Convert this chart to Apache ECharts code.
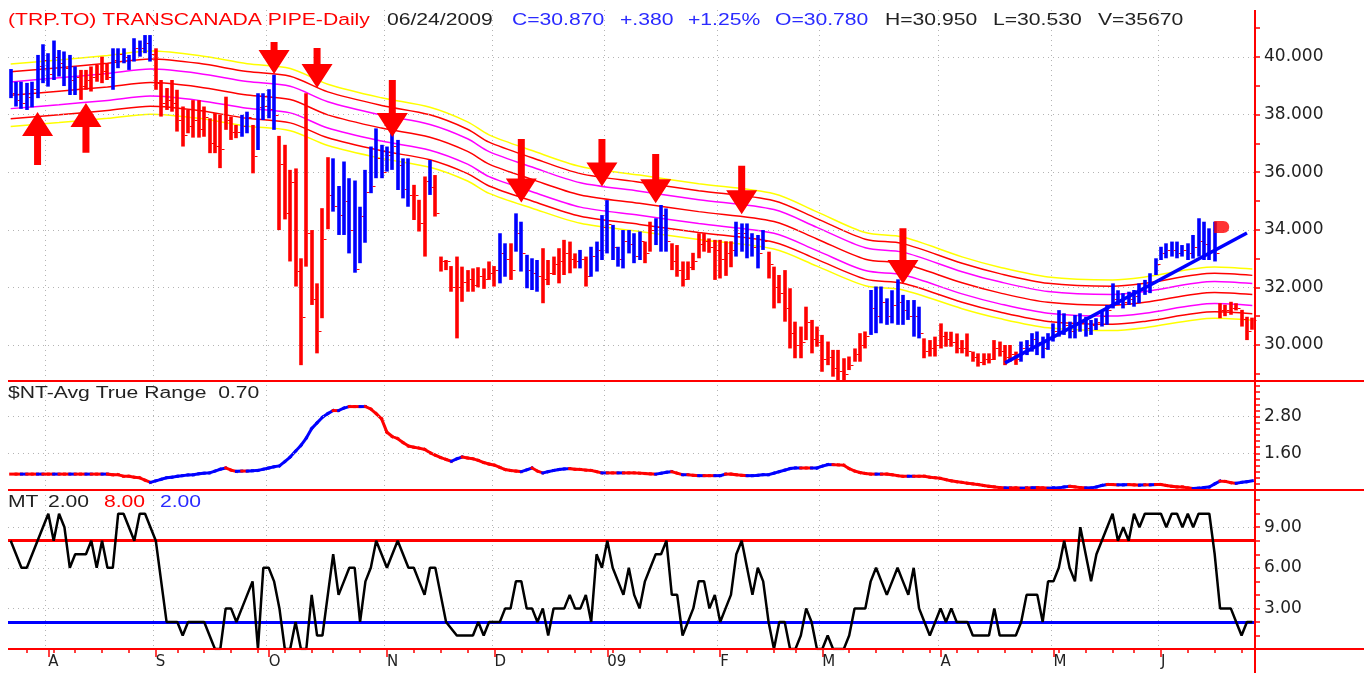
<!DOCTYPE html>
<html>
<head>
<meta charset="utf-8">
<title>TRP.TO Daily</title>
<script src="https://cdn.jsdelivr.net/npm/echarts@6/dist/echarts.min.js"></script>
<style>
  html, body { margin: 0; padding: 0; background: #fff; }
  #chart { width: 1364px; height: 673px; }
</style>
</head>
<body>
<div id="chart"></div>
<script>
// trading calendar (TSX) for the plotted span
const holidays = ['2008-08-04', '2008-09-01', '2008-10-13', '2008-12-25', '2008-12-26',
  '2009-01-01', '2009-02-16', '2009-04-10', '2009-05-18'];

function tradingDays(from, to) {
  const out = [];
  const d = new Date(from + 'T00:00:00Z');
  const end = new Date(to + 'T00:00:00Z');
  while (d <= end) {
    const s = d.toISOString().slice(0, 10);
    const wd = d.getUTCDay();
    if (wd !== 0 && wd !== 6 && holidays.indexOf(s) < 0) out.push(s);
    d.setUTCDate(d.getUTCDate() + 1);
  }
  return out;
}
const dates = tradingDays('2008-07-23', '2009-06-24');

// price bars
const highs = [
  39.58, 39.14, 39.14, 39.10, 39.14, 40.07, 40.44, 40.13, 40.57, 40.24,
  40.19, 40.07, 39.67, 39.55, 39.55, 39.67, 39.72, 40.01, 39.78, 40.30,
  40.30, 40.30, 40.07, 40.65, 40.57, 40.76, 40.76, 40.30, 39.20, 38.92,
  39.20, 38.86, 38.28, 38.16, 38.50, 38.50, 38.28, 37.87, 38.05, 37.99,
  38.62, 37.93, 37.64, 37.99, 38.10, 37.64, 38.74, 38.74, 38.88, 39.38,
  37.26, 36.95, 36.08, 36.13, 33.01, 38.74, 33.99, 32.14, 34.75, 36.52,
  36.48, 35.52, 36.37, 35.79, 35.71, 34.80, 36.08, 36.89, 37.52, 36.95,
  36.89, 37.41, 37.12, 36.48, 36.48, 35.56, 35.04, 35.85, 36.42, 35.90,
  33.07, 32.95, 32.74, 33.07, 32.72, 32.60, 32.66, 32.70, 32.66, 32.90,
  32.74, 33.88, 33.53, 33.53, 34.57, 34.28, 33.13, 33.01, 32.95, 33.36,
  32.95, 33.07, 33.36, 33.65, 33.59, 33.18, 33.30, 33.07, 33.41, 33.59,
  34.51, 35.03, 34.17, 33.41, 33.99, 33.99, 33.88, 33.94, 33.59, 34.28,
  34.40, 34.86, 34.74, 33.53, 33.47, 32.90, 32.90, 33.20, 33.88, 33.88,
  33.70, 33.65, 33.65, 33.60, 33.60, 34.28, 34.22, 34.22, 33.88, 33.82,
  33.99, 33.24, 32.72, 32.43, 32.60, 31.97, 30.81, 30.64, 31.33, 30.87,
  30.64, 30.35, 30.12, 29.83, 29.83, 29.54, 29.60, 29.88, 30.41, 30.47,
  31.91, 32.03, 32.03, 31.62, 31.90, 32.28, 31.74, 31.56, 31.56, 31.33,
  30.23, 30.17, 30.29, 30.75, 30.46, 30.46, 30.40, 30.17, 30.40, 29.77,
  29.71, 29.71, 29.71, 30.17, 30.12, 30.00, 30.00, 29.77, 30.12, 30.17,
  30.41, 30.47, 30.29, 30.41, 30.75, 31.21, 31.10, 30.81, 31.04, 31.10,
  30.98, 30.87, 30.93, 31.16, 31.39, 32.14, 31.90, 31.80, 31.85, 31.91,
  32.14, 32.26, 32.49, 33.01, 33.41, 33.53, 33.59, 33.59, 33.47, 33.53,
  33.82, 34.40, 34.28, 34.05, 34.28, 31.45, 31.40, 31.50, 31.45, 31.22,
  30.98, 30.95
];
const lows = [
  38.57, 38.28, 38.20, 38.16, 38.25, 38.57, 39.09, 38.97, 39.20, 39.32,
  38.99, 38.68, 38.68, 38.51, 38.86, 38.80, 39.14, 39.09, 39.20, 38.86,
  39.61, 39.78, 39.55, 39.84, 40.01, 40.13, 39.84, 38.86, 37.93, 38.16,
  38.10, 37.41, 36.89, 37.35, 37.20, 37.20, 37.23, 36.66, 36.66, 36.14,
  37.47, 37.12, 37.18, 37.23, 37.35, 35.96, 36.77, 37.81, 37.87, 37.47,
  33.99, 34.36, 32.90, 32.03, 29.30, 32.72, 31.39, 29.71, 30.93, 34.02,
  34.63, 33.82, 33.82, 33.18, 32.51, 32.84, 33.55, 35.27, 35.79, 35.79,
  36.02, 36.08, 35.38, 35.09, 34.80, 34.34, 33.94, 33.07, 35.21, 34.46,
  32.55, 32.60, 31.85, 30.23, 31.50, 31.85, 31.85, 32.00, 31.95, 32.26,
  32.03, 32.14, 32.37, 32.26, 33.24, 32.55, 31.97, 31.91, 31.85, 31.45,
  32.08, 32.43, 32.14, 32.43, 32.49, 32.66, 32.66, 32.03, 32.37, 32.55,
  32.95, 33.18, 32.95, 32.72, 32.66, 33.18, 32.84, 32.95, 32.84, 33.24,
  33.47, 33.24, 33.24, 32.60, 32.37, 32.03, 32.26, 32.60, 33.01, 33.24,
  33.20, 32.26, 32.31, 32.40, 32.70, 33.07, 33.24, 33.01, 33.07, 32.66,
  33.30, 32.31, 31.27, 31.45, 30.81, 29.88, 29.54, 29.54, 30.17, 29.71,
  29.94, 29.07, 29.30, 28.90, 28.78, 28.78, 29.13, 29.42, 29.42, 29.88,
  30.35, 30.41, 30.75, 30.70, 30.75, 30.70, 30.70, 30.87, 30.29, 30.23,
  29.54, 29.60, 29.60, 29.88, 29.94, 29.94, 29.71, 29.71, 29.60, 29.42,
  29.25, 29.30, 29.36, 29.48, 29.60, 29.30, 29.42, 29.31, 29.42, 29.65,
  29.77, 29.65, 29.54, 29.83, 30.12, 30.29, 30.35, 30.23, 30.23, 30.46,
  30.29, 30.35, 30.52, 30.64, 30.70, 31.27, 31.39, 31.27, 31.39, 31.33,
  31.45, 31.74, 31.80, 32.43, 32.95, 33.01, 33.07, 33.01, 33.07, 32.95,
  33.00, 33.07, 32.95, 32.95, 32.90, 30.93, 31.00, 31.05, 31.20, 30.64,
  30.17, 30.53
];
const closes = [
  38.75, 38.50, 38.40, 38.60, 38.90, 39.70, 39.90, 39.40, 40.00, 39.80,
  39.60, 39.20, 39.30, 39.00, 39.20, 39.30, 39.40, 39.50, 39.30, 39.90,
  40.10, 40.00, 39.90, 40.30, 40.30, 40.50, 40.10, 39.10, 38.40, 38.50,
  38.40, 37.80, 37.30, 37.60, 37.80, 37.50, 37.90, 37.00, 36.90, 36.80,
  37.80, 37.40, 37.40, 37.60, 37.90, 36.56, 38.25, 38.30, 38.20, 38.00,
  36.27, 34.57, 35.67, 32.58, 30.96, 33.90, 31.59, 30.50, 33.68, 35.20,
  34.84, 34.50, 35.00, 34.00, 32.63, 34.48, 35.30, 35.52, 36.50, 36.00,
  36.60, 36.90, 36.25, 35.40, 35.20, 35.20, 34.25, 35.70, 35.50, 34.57,
  32.90, 32.90, 32.00, 32.00, 32.20, 32.30, 32.10, 32.40, 32.30, 32.50,
  32.60, 33.20, 33.00, 32.60, 33.90, 33.20, 32.60, 32.50, 32.40, 32.30,
  32.50, 32.80, 32.90, 33.20, 33.00, 32.90, 33.00, 32.40, 33.10, 33.30,
  34.10, 34.20, 33.40, 33.00, 33.60, 33.50, 33.10, 33.60, 33.20, 34.00,
  34.10, 34.50, 33.60, 32.90, 32.60, 32.30, 32.70, 32.90, 33.50, 33.60,
  33.40, 33.30, 33.00, 33.20, 33.30, 33.90, 33.90, 33.70, 33.40, 33.20,
  33.60, 32.80, 32.00, 31.80, 31.30, 30.40, 30.00, 30.10, 30.80, 30.20,
  30.10, 29.50, 29.60, 29.20, 29.10, 29.00, 29.30, 29.70, 30.00, 30.30,
  31.30, 31.00, 31.50, 31.00, 31.40, 31.50, 31.20, 31.00, 31.00, 30.40,
  29.80, 29.90, 30.00, 30.30, 30.20, 30.10, 29.90, 29.90, 29.80, 29.60,
  29.40, 29.50, 29.50, 29.90, 29.80, 29.60, 29.70, 29.50, 29.90, 30.00,
  30.20, 30.10, 29.90, 30.20, 30.50, 30.80, 30.70, 30.50, 30.80, 30.80,
  30.60, 30.70, 30.80, 31.00, 31.20, 31.60, 31.60, 31.50, 31.60, 31.70,
  31.90, 32.00, 32.20, 32.80, 33.20, 33.30, 33.30, 33.20, 33.30, 33.20,
  33.40, 33.60, 33.50, 33.30, 33.20, 31.20, 31.20, 31.30, 31.30, 30.90,
  30.50, 30.87
];
// B = blue bar, R = red bar
const barTrend = (
  'BBBBBBBBBB' + 'BBBRRRRRRB' + 'BBBBBBBRRR' + 'RRRRRRRRRR' + 'RRRBBRBBBB' +
  'RRRRRRRRRR' + 'BBBBBBBBBB' + 'BBBBBRRRBR' + 'RRRRRRRRRR' + 'RBBRBBBBBR' +
  'RRRRRRBRBB' + 'BBBBBBBBRR' + 'BBBRRRRRRR' + 'RRRRRBBBBB' + 'BRRRRRRRRR' +
  'RRRRRRRRRR' + 'BBBBBBBBBB' + 'RRRRRRRRRR' + 'RRRRRRRRBB' + 'BBBBBBBBBB' +
  'BBBBBBBBBB' + 'BBBBBBBBBB' + 'BBBBBRRRRR' + 'RR'
).split('');

// envelope: centre average read at points, bands in percent
const envCenter = [
  [0, 38.67], [9, 38.81], [18, 38.96], [26, 39.11], [35, 38.96], [44, 38.68],
  [52, 38.52], [59, 37.99], [69, 37.53], [78, 37.21], [85, 36.72], [89, 36.28],
  [97, 35.75], [106, 35.21], [117, 34.92], [128, 34.63], [142, 34.29], [150, 33.68],
  [159, 32.98], [166, 32.83], [177, 32.16], [184, 31.81], [193, 31.48], [205, 31.38],
  [211, 31.48], [224, 31.82], [231, 31.75]
];
const envPct = [2.8, 2.1, 1.2, 0, -1.2, -2.1, -2.8];

// signal arrows: [bar, tail price, tip price]
const arrows = [
  [5, 36.25, 38.09], [14, 36.67, 38.40], [49, 40.52, 39.41], [57, 40.31, 38.92],
  [71, 39.20, 37.22], [95, 37.15, 34.95], [110, 37.15, 35.50], [120, 36.63, 34.92],
  [136, 36.22, 34.54], [166, 34.05, 32.12]
];
const trendLine = [[185, 29.38], [230, 33.89]];
const flagPoint = [[224, 34.10]];

const atr = [
  0.92, 0.92, 0.92, 0.92, 0.92, 0.92, 0.92, 0.92, 0.92, 0.92,
  0.92, 0.92, 0.92, 0.92, 0.92, 0.92, 0.92, 0.92, 0.92, 0.90,
  0.90, 0.85, 0.85, 0.82, 0.80, 0.72, 0.65, 0.70, 0.75, 0.80,
  0.82, 0.85, 0.87, 0.89, 0.90, 0.93, 0.95, 0.96, 1.02, 1.08,
  1.12, 1.05, 1.01, 1.02, 1.02, 1.03, 1.04, 1.08, 1.12, 1.16,
  1.19, 1.33, 1.48, 1.67, 1.86, 2.10, 2.41, 2.60, 2.78, 2.90,
  3.00, 3.00, 3.08, 3.13, 3.13, 3.13, 3.13, 3.05, 2.90, 2.73,
  2.29, 2.15, 2.08, 1.95, 1.84, 1.80, 1.77, 1.73, 1.62, 1.54,
  1.46, 1.40, 1.34, 1.42, 1.48, 1.45, 1.42, 1.37, 1.30, 1.25,
  1.21, 1.14, 1.07, 1.04, 1.02, 1.00, 1.06, 1.12, 1.02, 0.96,
  1.00, 1.04, 1.07, 1.09, 1.10, 1.08, 1.07, 1.05, 1.04, 1.00,
  0.96, 0.96, 0.96, 0.96, 0.96, 0.96, 0.96, 0.95, 0.94, 0.93,
  0.92, 0.95, 0.98, 1.00, 0.95, 0.90, 0.90, 0.88, 0.87, 0.87,
  0.87, 0.87, 0.87, 0.92, 0.92, 0.90, 0.88, 0.87, 0.87, 0.88,
  0.90, 0.90, 0.95, 1.00, 1.05, 1.10, 1.12, 1.12, 1.12, 1.12,
  1.12, 1.18, 1.23, 1.23, 1.22, 1.21, 1.10, 1.02, 0.97, 0.94,
  0.92, 0.92, 0.92, 0.92, 0.90, 0.87, 0.85, 0.85, 0.85, 0.85,
  0.85, 0.82, 0.80, 0.78, 0.74, 0.70, 0.67, 0.65, 0.62, 0.60,
  0.58, 0.55, 0.52, 0.50, 0.48, 0.47, 0.47, 0.47, 0.46, 0.47,
  0.47, 0.48, 0.47, 0.46, 0.47, 0.47, 0.50, 0.52, 0.50, 0.48,
  0.47, 0.47, 0.50, 0.55, 0.58, 0.58, 0.57, 0.57, 0.58, 0.57,
  0.56, 0.57, 0.57, 0.58, 0.58, 0.55, 0.52, 0.50, 0.50, 0.47,
  0.45, 0.46, 0.48, 0.50, 0.60, 0.69, 0.68, 0.64, 0.62, 0.65,
  0.67, 0.70
];

const mt = [
  8, 7, 6, 6, 7, 8, 9, 10, 8, 10,
  9, 6, 7, 7, 7, 8, 6, 8, 6, 6,
  10, 10, 9, 8, 10, 10, 9, 8, 5, 2,
  2, 2, 1, 2, 2, 2, 2, 1, 0, 0,
  3, 3, 2, 3, 4, 5, 0, 6, 6, 5,
  3, 0, 0, 2, 0, 0, 4, 1, 1, 4,
  7, 4, 5, 6, 6, 2, 5, 6, 8, 7,
  6, 7, 8, 7, 6, 6, 5, 4, 6, 6,
  4, 2, 1.5, 1, 1, 1, 1, 2, 1, 2,
  2, 2, 3, 3, 5, 5, 3, 3, 2, 3,
  1, 3, 3, 3, 4, 3, 3, 4, 2, 7,
  6, 8, 6, 5, 4, 6, 4, 3, 5, 6,
  7, 7, 8, 4, 4, 1, 2, 3, 5, 5,
  3, 4, 2, 3, 4, 7, 8, 6, 4, 6,
  5, 2, 0, 2, 2, 0, 0, 1, 3, 2,
  0, 0, 1, 0, 0, 0, 1, 3, 3, 3,
  5, 6, 5, 4, 5, 6, 5, 4, 6, 3,
  2, 1, 2, 3, 2, 3, 2, 2, 2, 1,
  1, 1, 1, 3, 1, 1, 1, 1, 2, 4,
  4, 4, 2, 5, 5, 6, 8, 6, 5, 9,
  7, 5, 7, 8, 9, 10, 8, 9, 8, 10,
  9, 10, 10, 10, 10, 9, 10, 10, 9, 10,
  9, 10, 10, 10, 7, 3, 3, 3, 2, 1,
  2, 2
];
const mtUpper = 8;
const mtLower = 2;

// axis ticks / labels
const priceLabels = [30, 32, 34, 36, 38, 40];
const priceTicks = [29, 30, 31, 32, 33, 34, 35, 36, 37, 38, 39, 40, 41];
const atrLabels = [1.6, 2.8];
const atrTicks = [0.6, 0.8, 1.0, 1.2, 1.4, 1.6, 1.8, 2.0, 2.2, 2.4, 2.6, 2.8, 3.0, 3.2, 3.4, 3.6, 3.8];
const mtLabels = [3, 6, 9];
const mtTicks = [1, 2, 3, 4, 5, 6, 7, 8, 9, 10, 11];

const RED = '#ff0000';
const BLUE = '#0000ff';
const YELLOW = '#ffff00';
const MAGENTA = '#ff00ff';
const envColors = [YELLOW, RED, MAGENTA, RED, MAGENTA, RED, YELLOW];
const dotted = { color: '#b4b4b4', type: [1, 4], width: 1 };

const dow = s => new Date(s + 'T00:00:00Z').getUTCDay();
const isMonthStart = dates.map((d, i) => i > 0 && d.slice(5, 7) !== dates[i - 1].slice(5, 7));
const isWeekStart = dates.map((d, i) => i > 0 && dow(d) < dow(dates[i - 1]));

const chart = echarts.init(document.getElementById('chart'));

const catAxis = (gridIndex, extra) => Object.assign({
  type: 'category',
  gridIndex: gridIndex,
  position: 'bottom',
  data: dates,
  boundaryGap: true,
  axisLine: { show: false },
  axisTick: { show: false },
  axisLabel: { show: false },
  splitLine: { show: true, interval: i => isMonthStart[i], lineStyle: dotted }
}, extra || {});

const valAxis = (gridIndex, min, max, ticks, labels, digits) => ({
  type: 'value',
  gridIndex: gridIndex,
  position: 'right',
  min: min,
  max: max,
  axisLine: { show: false },
  splitLine: { show: false },
  axisTick: { show: true, length: 5, customValues: ticks, lineStyle: { color: RED, width: 1.5 } },
  axisLabel: {
    customValues: labels,
    margin: 9,
    color: '#222',
    fontFamily: 'DejaVu Sans',
    fontSize: 17,
    formatter: v => v.toFixed(digits)
  }
});

const gridLines = values => ({
  silent: true,
  symbol: ['none', 'none'],
  label: { show: false },
  lineStyle: dotted,
  animation: false,
  data: values.map(v => ({ yAxis: v }))
});

const envSeries = envPct.map((p, k) => ({
  type: 'line',
  xAxisIndex: 0,
  yAxisIndex: 0,
  data: envCenter.map(([i, v]) => [i, +(v * (1 + p / 100)).toFixed(3)]),
  smooth: 0.3,
  symbol: 'none',
  z: 2,
  silent: true,
  lineStyle: { color: envColors[k], width: 1.5 },
  markLine: p === 0 ? gridLines(priceLabels) : undefined
}));

const textEl = (x, y, text, color) => ({
  type: 'text',
  x: x,
  y: y,
  scaleX: 1.32,
  z: 100,
  style: { text: text, fill: color, font: '16px "Liberation Sans", Arial, sans-serif', verticalAlign: 'middle' }
});
const hLine = y => ({
  type: 'line', z: 90,
  shape: { x1: 8, y1: y, x2: 1364, y2: y },
  style: { stroke: RED, lineWidth: 2 }
});

chart.setOption({
  animation: false,
  backgroundColor: '#fff',
  textStyle: { fontFamily: '"Liberation Sans", Arial, sans-serif' },
  grid: [
    { left: 8, right: 109, top: 10, height: 371 },
    { left: 8, right: 109, top: 380, height: 110 },
    { left: 8, right: 109, top: 490, height: 159 }
  ],
  xAxis: [
    catAxis(0),
    catAxis(1),
    catAxis(2, {
      axisTick: { show: true, alignWithLabel: true, interval: i => isWeekStart[i], length: 4, lineStyle: { color: RED, width: 1.5 } }
    }),
    catAxis(2, {
      splitLine: { show: false },
      axisTick: { show: true, alignWithLabel: true, interval: i => isMonthStart[i], length: 8, lineStyle: { color: RED, width: 1.5 } },
      axisLabel: {
        show: true,
        interval: i => isMonthStart[i],
        align: 'left',
        margin: 6,
        color: '#222',
        fontFamily: 'DejaVu Sans',
        fontSize: 15,
        formatter: v => (v.slice(5, 7) === '01' ? v.slice(2, 4) : 'JFMAMJJASOND'[+v.slice(5, 7) - 1])
      }
    })
  ],
  yAxis: [
    valAxis(0, 28.75, 41.63, priceTicks, priceLabels, 3),
    valAxis(1, 0.4, 4.0, atrTicks, atrLabels, 2),
    valAxis(2, 0, 11.75, mtTicks, mtLabels, 2)
  ],
  series: envSeries.concat([
    {
      type: 'custom',
      name: 'bars',
      xAxisIndex: 0,
      yAxisIndex: 0,
      z: 5,
      silent: true,
      encode: { x: 0, y: [1, 2, 3] },
      data: highs.map((h, i) => [i, h, lows[i], closes[i]]),
      renderItem: (params, api) => {
        const i = api.value(0);
        const top = api.coord([i, api.value(1)]);
        const bot = api.coord([i, api.value(2)]);
        const cl = api.coord([i, api.value(3)]);
        const x = Math.round(top[0]);
        const col = barTrend[params.dataIndex] === 'B' ? BLUE : RED;
        return {
          type: 'group',
          children: [
            { type: 'line', shape: { x1: x, y1: top[1], x2: x, y2: bot[1] }, style: { stroke: col, lineWidth: 3.6 } },
            { type: 'line', shape: { x1: x + 1.8, y1: Math.round(cl[1]) + 0.5, x2: x + 4.5, y2: Math.round(cl[1]) + 0.5 }, style: { stroke: RED, lineWidth: 1 } }
          ]
        };
      }
    },
    {
      type: 'line',
      xAxisIndex: 0,
      yAxisIndex: 0,
      data: trendLine,
      symbol: 'none',
      z: 6,
      silent: true,
      lineStyle: { color: BLUE, width: 3.5 }
    },
    {
      type: 'scatter',
      xAxisIndex: 0,
      yAxisIndex: 0,
      data: flagPoint,
      z: 7,
      silent: true,
      symbol: 'path://M0,0 L9,0 C13,0 15,3 15,6 C15,9 13,12 9,12 L0,12 Z',
      symbolSize: [15, 12],
      symbolOffset: [7, 0],
      itemStyle: { color: RED }
    },
    {
      type: 'custom',
      name: 'arrows',
      xAxisIndex: 0,
      yAxisIndex: 0,
      z: 8,
      silent: true,
      encode: { x: 0, y: [1, 2] },
      data: arrows,
      renderItem: (params, api) => {
        const a = api.coord([api.value(0), api.value(1)]);
        const b = api.coord([api.value(0), api.value(2)]);
        const dir = b[1] > a[1] ? 1 : -1;
        const headLen = 24, headHalf = 15.5, shaftHalf = 3.5;
        const hb = b[1] - dir * headLen;
        const x = b[0];
        return {
          type: 'polygon',
          shape: { points: [
            [x - shaftHalf, a[1]], [x + shaftHalf, a[1]], [x + shaftHalf, hb], [x + headHalf, hb],
            [x, b[1]], [x - headHalf, hb], [x - shaftHalf, hb]
          ] },
          style: { fill: RED }
        };
      }
    },
    // ATR panel
    {
      type: 'line',
      xAxisIndex: 1,
      yAxisIndex: 1,
      data: atr,
      symbol: 'none',
      silent: true,
      z: 1,
      lineStyle: { opacity: 0 },
      markLine: gridLines(atrLabels)
    },
    {
      type: 'custom',
      name: 'atr',
      xAxisIndex: 1,
      yAxisIndex: 1,
      z: 4,
      silent: true,
      encode: { x: 0, y: [1, 2] },
      data: atr.slice(1).map((v, k) => [k + 1, atr[k], v]),
      renderItem: (params, api) => {
        const i = api.value(0);
        const p0 = api.coord([i - 1, api.value(1)]);
        const p1 = api.coord([i, api.value(2)]);
        const d = api.value(2) - api.value(1);
        const col = d > 0 ? BLUE : (d < 0 ? RED : (i % 3 === 0 ? BLUE : RED));
        return {
          type: 'line',
          shape: { x1: p0[0], y1: p0[1], x2: p1[0], y2: p1[1] },
          style: { stroke: col, lineWidth: 3, lineCap: 'square' }
        };
      }
    },
    // MT panel
    {
      type: 'line',
      xAxisIndex: 2,
      yAxisIndex: 2,
      data: mt,
      symbol: 'none',
      silent: true,
      z: 1,
      lineStyle: { opacity: 0 },
      markLine: {
        silent: true,
        symbol: ['none', 'none'],
        label: { show: false },
        animation: false,
        data: mtLabels.map(v => ({ yAxis: v, lineStyle: dotted })).concat([
          { yAxis: mtUpper, lineStyle: { color: RED, width: 3, type: 'solid' } },
          { yAxis: mtLower, lineStyle: { color: BLUE, width: 3, type: 'solid' } }
        ])
      }
    },
    {
      type: 'line',
      xAxisIndex: 2,
      yAxisIndex: 2,
      data: mt,
      symbol: 'none',
      silent: true,
      z: 5,
      lineStyle: { color: '#000', width: 2.5 }
    }
  ]),
  graphic: [
    hLine(381), hLine(490), hLine(649),
    { type: 'line', z: 90, shape: { x1: 1255, y1: 10, x2: 1255, y2: 673 }, style: { stroke: RED, lineWidth: 2 } },
    textEl(8, 21, '(TRP.TO) TRANSCANADA PIPE-Daily', RED),
    textEl(387, 21, '06/24/2009', '#222'),
    textEl(512, 21, 'C=30.870', '#2a2aff'),
    textEl(620, 21, '+.380', '#2a2aff'),
    textEl(688, 21, '+1.25%', '#2a2aff'),
    textEl(775, 21, 'O=30.780', '#2a2aff'),
    textEl(885, 21, 'H=30.950', '#222'),
    textEl(993, 21, 'L=30.530', '#222'),
    textEl(1098, 21, 'V=35670', '#222'),
    textEl(8, 394, '$NT-Avg True Range  0.70', '#222'),
    textEl(8, 503, 'MT', '#222'),
    textEl(48, 503, '2.00', '#222'),
    textEl(104, 503, '8.00', RED),
    textEl(160, 503, '2.00', '#2a2aff')
  ]
});
</script>
</body>
</html>
